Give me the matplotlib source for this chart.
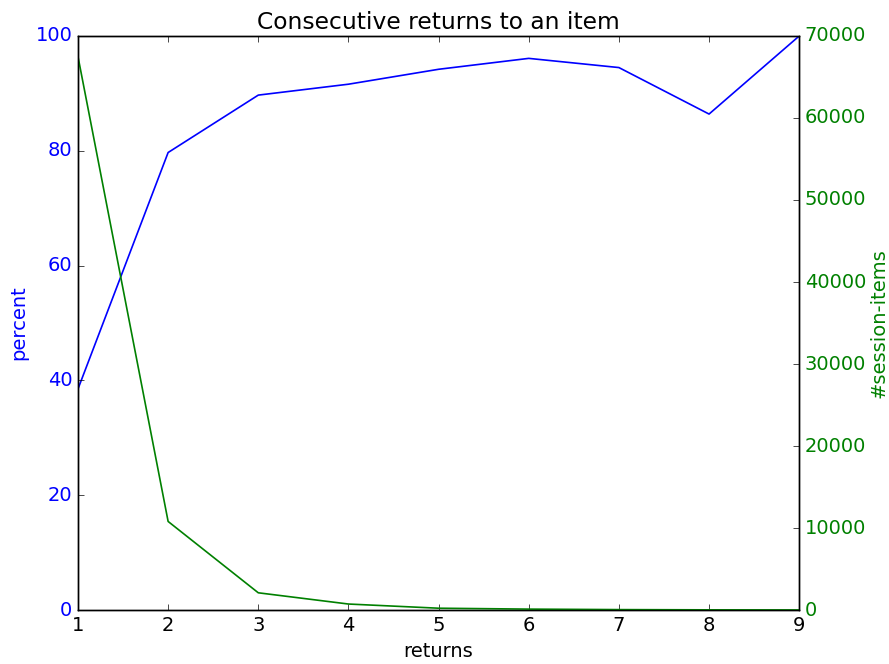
import matplotlib
matplotlib.use("Agg")
import matplotlib.pyplot as plt

plt.style.use("classic")
plt.rcParams["font.size"] = 14

returns = [1, 2, 3, 4, 5, 6, 7, 8, 9]
percent = [38.5, 79.7, 89.7, 91.6, 94.2, 96.1, 94.5, 86.4, 100.0]
session_items = [67500, 10800, 2100, 730, 220, 110, 50, 20, 10]

fig = plt.figure(figsize=(8.89, 6.64), dpi=100, facecolor="white")
ax1 = fig.add_axes([0.0877, 0.0813, 0.8113, 0.8645])
ax1.set_facecolor("white")

ax1.plot(returns, percent, color="b", linewidth=1.2)
ax1.set_xlim(1, 9)
ax1.set_ylim(0, 100)
ax1.set_xlabel("returns")
ax1.set_ylabel("percent", color="b")
for t in ax1.get_yticklabels():
    t.set_color("b")
ax1.set_title("Consecutive returns to an item")

ax2 = ax1.twinx()
ax2.plot(returns, session_items, color="g", linewidth=1.2)
ax2.set_xlim(1, 9)
ax2.set_ylim(0, 70000)
ax2.set_ylabel("#session-items", color="g", labelpad=2)
for t in ax2.get_yticklabels():
    t.set_color("g")

fig.savefig("out.png", dpi=100, facecolor="white")
